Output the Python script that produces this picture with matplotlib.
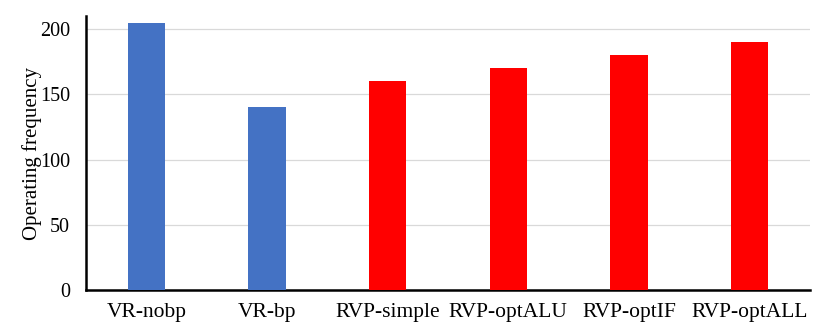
import matplotlib
matplotlib.use("Agg")
import matplotlib.pyplot as plt

categories = ["VR-nobp", "VR-bp", "RVP-simple", "RVP-optALU", "RVP-optIF", "RVP-optALL"]
values = [205, 140, 160, 170, 180, 190]
colors = ["#4472C4", "#4472C4", "#FF0000", "#FF0000", "#FF0000", "#FF0000"]
yticks = [0, 50, 100, 150, 200]

plt.rcParams['font.family'] = ['Liberation Serif', 'DejaVu Serif']

fig = plt.figure(figsize=(8.3, 3.34), dpi=100)
ax = fig.add_axes([0.1036, 0.1317, 0.8723, 0.8203])
x = list(range(len(categories)))
ax.bar(x, values, width=0.31, color=colors, zorder=3)
ax.set_xlim(-0.5, len(categories) - 0.5)
ax.set_ylim(0, 210)
ax.set_yticks(yticks)
ax.set_xticks(x)
ax.set_xticklabels(categories, fontsize=15.5)
ax.tick_params(axis='y', labelsize=14.5, length=0, pad=11.5)
ax.tick_params(axis='x', length=0, pad=9)
ax.grid(axis='y', color='#D9D9D9', linewidth=0.9, zorder=0)
ax.spines['top'].set_visible(False)
ax.spines['right'].set_visible(False)
ax.spines['left'].set_linewidth(1.8)
ax.spines['bottom'].set_linewidth(1.8)
ax.set_ylabel("Operating frequency", fontsize=15, labelpad=-1.5)
fig.savefig("out.png", dpi=100)
